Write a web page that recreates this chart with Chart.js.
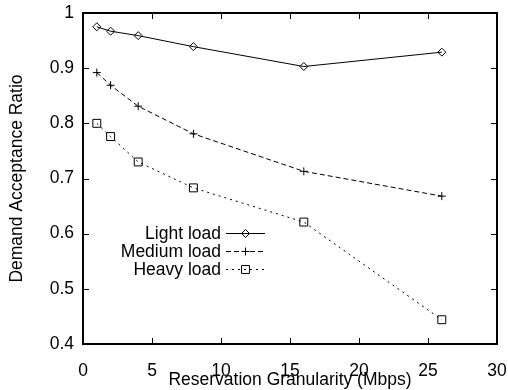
<!DOCTYPE html>
<html>
<head>
<meta charset="utf-8">
<script src="https://cdn.jsdelivr.net/npm/chart.js@4"></script>
<style>
  html, body { margin: 0; padding: 0; background: #fff; }
  #wrap { width: 508px; height: 390px; }
</style>
</head>
<body>
<div id="wrap"><canvas id="ratioChart"></canvas></div>
<script>
// Reservation granularity (Mbps)
const granularity = [1, 2, 4, 8, 16, 26];
const lightLoad = [0.975, 0.967, 0.959, 0.939, 0.903, 0.929];
const mediumLoad = [0.892, 0.869, 0.831, 0.781, 0.713, 0.668];
const heavyLoad = [0.800, 0.776, 0.730, 0.683, 0.621, 0.444];
const seriesNames = ['Light load', 'Medium load', 'Heavy load'];
const xTicks = [0, 5, 10, 15, 20, 25, 30];
const yTicks = [0.4, 0.5, 0.6, 0.7, 0.8, 0.9, 1];

const FONT = { family: "'Liberation Sans', Arial, sans-serif", size: 17.5 };

function toPoints(ys) {
    return granularity.map((x, i) => ({ x: x, y: ys[i] }));
}

// gnuplot-like frame with inward tick marks
const framePlugin = {
    id: 'frame',
    afterDatasetsDraw(chart) {
        const { ctx, chartArea: a, scales } = chart;
        ctx.save();
        ctx.strokeStyle = '#000';
        ctx.lineWidth = 1;
        ctx.beginPath();
        const len = 6;
        xTicks.forEach(v => {
            const px = Math.round(scales.x.getPixelForValue(v)) + 0.5;
            ctx.moveTo(px, a.bottom); ctx.lineTo(px, a.bottom - len);
            ctx.moveTo(px, a.top); ctx.lineTo(px, a.top + len);
        });
        yTicks.forEach(v => {
            const py = Math.round(scales.y.getPixelForValue(v)) + 0.5;
            ctx.moveTo(a.left, py); ctx.lineTo(a.left + len, py);
            ctx.moveTo(a.right, py); ctx.lineTo(a.right - len, py);
        });
        ctx.stroke();
        ctx.lineWidth = 2;
        ctx.strokeRect(a.left, a.top, a.right - a.left, a.bottom - a.top);
        ctx.restore();
    },
    afterDraw(chart) {
        // legend, inside the plot
        const { ctx, chartArea: a } = chart;
        const textRight = a.left + 138;
        const lineStart = textRight + 5;
        const lineEnd = textRight + 44;
        ctx.save();
        ctx.font = FONT.size + 'px ' + FONT.family;
        ctx.textAlign = 'right';
        ctx.textBaseline = 'middle';
        chart.data.datasets.forEach((ds, i) => {
            const y = a.top + 220 + i * 18;
            ctx.fillStyle = '#000';
            ctx.fillText(ds.label, textRight, y + 1);
            ctx.strokeStyle = '#000';
            ctx.lineWidth = 1;
            ctx.setLineDash(ds.borderDash || []);
            ctx.beginPath();
            ctx.moveTo(lineStart, y + 0.5);
            ctx.lineTo(lineEnd, y + 0.5);
            ctx.stroke();
            ctx.setLineDash([]);
            ctx.fillStyle = 'rgba(0,0,0,0)';
            Chart.helpers.drawPoint(ctx, {
                pointStyle: ds.pointStyle, radius: ds.pointRadius, borderWidth: 1, rotation: 0
            }, (lineStart + lineEnd) / 2, y + 0.5);
        });
        ctx.restore();
    }
};

const ctx = document.getElementById('ratioChart').getContext('2d');
const ratioChart = new Chart(ctx, {
    type: 'line',
    data: {
        datasets: [{
            label: seriesNames[0],
            data: toPoints(lightLoad),
            borderColor: '#000',
            borderWidth: 1,
            pointStyle: 'rectRot',
            pointRadius: 4,
            pointBorderColor: '#000',
            pointBackgroundColor: 'rgba(0,0,0,0)',
            pointBorderWidth: 1
        }, {
            label: seriesNames[1],
            data: toPoints(mediumLoad),
            borderColor: '#000',
            borderWidth: 1,
            borderDash: [5, 3],
            pointStyle: 'cross',
            pointRadius: 4,
            pointBorderColor: '#000',
            pointBorderWidth: 1
        }, {
            label: seriesNames[2],
            data: toPoints(heavyLoad),
            borderColor: '#000',
            borderWidth: 1,
            borderDash: [2, 4],
            pointStyle: 'rect',
            pointRadius: 5.6,
            pointBorderColor: '#000',
            pointBackgroundColor: 'rgba(0,0,0,0)',
            pointBorderWidth: 1
        }]
    },
    options: {
        responsive: true,
        maintainAspectRatio: false,
        animation: false,
        devicePixelRatio: 1,
        layout: { padding: { top: 13, right: 11, left: 0, bottom: 0 } },
        plugins: {
            legend: { display: false },
            tooltip: { enabled: false }
        },
        scales: {
            x: {
                type: 'linear',
                min: 0,
                max: 30,
                afterBuildTicks: s => { s.ticks = xTicks.map(v => ({ value: v })); },
                afterFit: s => { s.height = 46; s.paddingRight = 0; s.paddingLeft = 0; },
                grid: { display: false, drawTicks: false },
                border: { display: false },
                ticks: { color: '#000', font: FONT, padding: 17, maxRotation: 0 },
                title: {
                    display: true,
                    text: 'Reservation Granularity (Mbps)',
                    color: '#000',
                    font: FONT,
                    padding: { top: 0, bottom: -1 }
                }
            },
            y: {
                min: 0.4,
                max: 1,
                afterBuildTicks: s => { s.ticks = yTicks.map(v => ({ value: v })); },
                afterFit: s => { s.width = 83; s.paddingTop = 0; s.paddingBottom = 0; },
                grid: { display: false, drawTicks: false },
                border: { display: false },
                ticks: {
                    color: '#000',
                    font: FONT,
                    padding: 9,
                    callback: v => String(Math.round(v * 10) / 10)
                },
                title: {
                    display: true,
                    text: 'Demand Acceptance Ratio',
                    color: '#000',
                    font: FONT,
                    padding: { top: 7, bottom: 0 }
                }
            }
        }
    },
    plugins: [framePlugin]
});
</script>
</body>
</html>
